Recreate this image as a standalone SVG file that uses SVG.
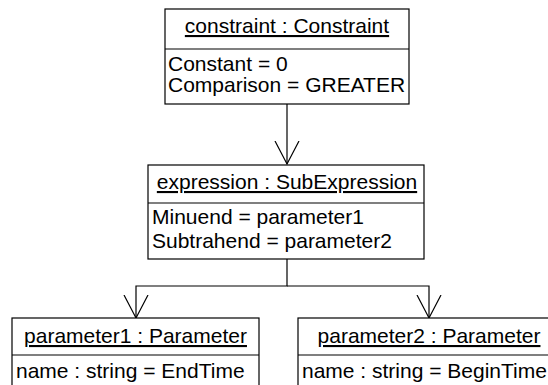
<svg xmlns="http://www.w3.org/2000/svg" width="548" height="385" viewBox="0 0 548 385">
<style>
.box{fill:#fff;stroke:#000;stroke-width:1.2}
.ln{fill:none;stroke:#000;stroke-width:1.2}
text{font-family:"Liberation Sans",Arial,sans-serif;font-size:21px;fill:#000}
.h{text-anchor:middle;text-decoration:underline}
</style>
<defs>
<marker id="open" markerUnits="userSpaceOnUse" markerWidth="30" markerHeight="30" refX="23" refY="12.5" orient="auto">
<path d="M0,0.5 L23,12.5 L0,24.5" fill="none" stroke="#000" stroke-width="1.2"/>
</marker>
</defs>
<g id="connectors">
<line class="ln" x1="287" y1="104" x2="287" y2="164" marker-end="url(#open)"/>
<polyline class="ln" points="287,259 287,286 136,286 136,318" marker-end="url(#open)"/>
<polyline class="ln" points="287,286 429,286 429,318" marker-end="url(#open)"/>
</g>
<g id="constraint">
<rect class="box" x="165" y="9" width="244" height="95"/>
<line class="ln" x1="165" y1="49" x2="409" y2="49"/>
<text class="h" x="287" y="33">constraint : Constraint</text>
<text x="168" y="71">Constant = 0</text>
<text x="168" y="92">Comparison = GREATER</text>
</g>
<g id="expression">
<rect class="box" x="148" y="165" width="276" height="94"/>
<line class="ln" x1="148" y1="203" x2="424" y2="203"/>
<text class="h" x="287" y="189">expression : SubExpression</text>
<text x="152" y="224">Minuend = parameter1</text>
<text x="152" y="248">Subtrahend = parameter2</text>
</g>
<g id="parameter1">
<rect class="box" x="12" y="318" width="247" height="80"/>
<line class="ln" x1="12" y1="355" x2="259" y2="355"/>
<text class="h" x="135.5" y="343">parameter1 : Parameter</text>
<text x="16" y="378">name : string = EndTime</text>
</g>
<g id="parameter2">
<rect class="box" x="298" y="318" width="262" height="80"/>
<line class="ln" x1="298" y1="355" x2="560" y2="355"/>
<text class="h" x="429" y="343">parameter2 : Parameter</text>
<text x="302" y="378">name : string = BeginTime</text>
</g>
</svg>
